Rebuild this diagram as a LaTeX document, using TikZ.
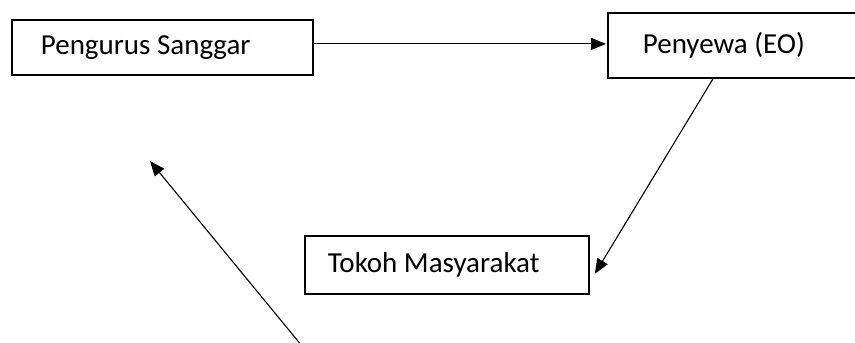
\documentclass[tikz,border=0pt]{standalone}
\usepackage{fontspec}
\setmainfont{Carlito}
\usetikzlibrary{arrows.meta,calc}
% a label set flush left inside a fixed-width box
\newcommand{\boxlabel}[3]{\makebox[#1][l]{\hspace{#2}#3}}
\begin{document}
\begin{tikzpicture}[x=1pt,y=-1pt,
  box/.style={draw, line width=1.8pt, rectangle, anchor=north west,
    font=\fontsize{29pt}{35pt}\selectfont, inner sep=0pt},
  flow/.style={line width=1.1pt, -{Triangle[length=15pt,width=12pt]}}]
\useasboundingbox (0,0) rectangle (855,343);
\clip (0,0) rectangle (855,343);
% the three parties
\node[box, minimum width=301pt, minimum height=55pt]
  (sanggar) at (11,19) {\boxlabel{301pt}{29pt}{Pengurus Sanggar}};
\node[box, minimum width=280pt, minimum height=65pt]
  (eo) at (607,12) {\boxlabel{280pt}{35pt}{Penyewa (EO)}};
\node[box, minimum width=284pt, minimum height=58pt]
  (tokoh) at (304,235) {\boxlabel{284pt}{23pt}{Tokoh Masyarakat}};
% connectors (yshift is in page units, upward)
\coordinate (loopstart) at (302,346);
\coordinate (looptip) at (150,161);
\draw[flow] ([yshift=3.5pt]sanggar.east) -- ([xshift=-1pt,yshift=1.5pt]eo.west);
\draw[flow] ($(eo.south west)+(106,0)$) -- ([xshift=5pt,yshift=-9pt]tokoh.east);
\draw[flow] (loopstart) -- (looptip);
\end{tikzpicture}
\end{document}
